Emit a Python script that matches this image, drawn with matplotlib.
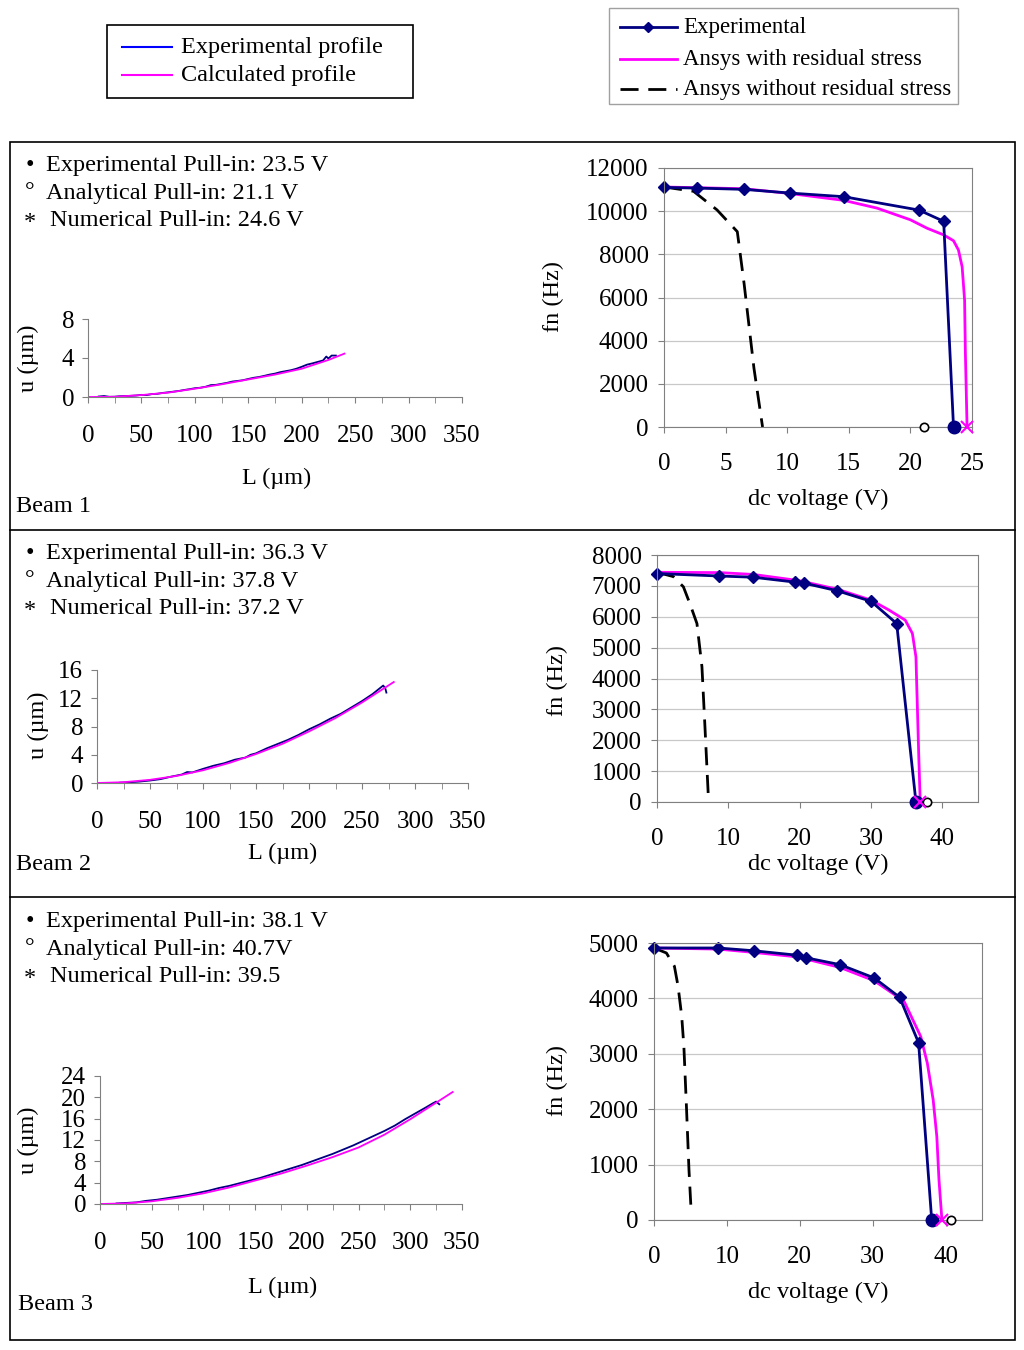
import matplotlib
matplotlib.use('Agg')
import matplotlib.pyplot as plt
from matplotlib.patches import Rectangle
from matplotlib.ticker import MultipleLocator

plt.rcParams['font.family'] = ['Liberation Serif', 'DejaVu Serif']

W, H = 1024, 1350

# ---- beam profiles (L um, u um) ----
b1_L_exp = [10, 15, 20, 25, 30, 35, 40, 45, 50, 55, 60, 65, 70, 75, 80, 85, 90, 95, 100,
            105, 110, 115, 120, 125, 130, 135, 140, 145, 150, 155, 160, 165, 170, 175, 180,
            185, 190, 195, 200, 205, 210, 215, 220, 223, 225, 228, 232]
b1_u_exp = [0.05, 0.1, 0.02, 0.03, 0.08, 0.1, 0.12, 0.15, 0.22, 0.2, 0.3, 0.33, 0.42, 0.48,
            0.55, 0.62, 0.72, 0.8, 0.9, 0.95, 1.05, 1.22, 1.25, 1.35, 1.45, 1.58, 1.65, 1.72,
            1.85, 1.97, 2.05, 2.17, 2.3, 2.4, 2.55, 2.65, 2.75, 2.9, 3.1, 3.32, 3.45, 3.6,
            3.75, 4.15, 3.95, 4.25, 4.25]
b1_L_calc = [0, 25, 50, 75, 100, 125, 150, 175, 200, 225, 240]
b1_u_calc = [0, 0.02, 0.2, 0.45, 0.85, 1.3, 1.8, 2.3, 2.9, 3.8, 4.45]

b2_L_exp = [22, 30, 40, 50, 60, 70, 80, 85, 90, 100, 110, 120, 130, 140, 145, 150, 160, 170,
            180, 190, 200, 210, 220, 230, 240, 250, 260, 265, 270, 272, 273]
b2_u_exp = [0.05, 0.1, 0.2, 0.35, 0.55, 0.9, 1.2, 1.55, 1.5, 2.0, 2.45, 2.8, 3.3, 3.6, 4.0,
            4.2, 4.9, 5.5, 6.1, 6.8, 7.6, 8.3, 9.1, 9.8, 10.7, 11.6, 12.6, 13.2, 13.8, 13.4, 12.8]
b2_L_calc = [0, 25, 50, 75, 100, 125, 150, 175, 200, 225, 250, 280]
b2_u_calc = [0, 0.11, 0.45, 1.0, 1.8, 2.85, 4.1, 5.55, 7.3, 9.2, 11.4, 14.3]

b3_L_exp = [16, 25, 35, 45, 55, 65, 75, 85, 95, 105, 115, 125, 135, 145, 155, 165, 175, 185,
            195, 205, 215, 225, 235, 245, 255, 265, 275, 285, 295, 305, 315, 322, 325, 328]
b3_u_exp = [0.1, 0.2, 0.3, 0.6, 0.8, 1.1, 1.4, 1.7, 2.1, 2.5, 3.0, 3.4, 3.9, 4.4, 4.9, 5.5,
            6.1, 6.7, 7.3, 8.0, 8.7, 9.4, 10.2, 11.0, 11.9, 12.8, 13.7, 14.7, 15.9, 17.0,
            18.1, 18.9, 19.2, 18.7]
b3_L_calc = [0, 25, 50, 75, 100, 125, 150, 175, 200, 225, 250, 275, 300, 325, 341]
b3_u_calc = [0, 0.12, 0.5, 1.15, 2.0, 3.1, 4.4, 5.7, 7.2, 8.8, 10.6, 13.0, 15.9, 19.0, 21.0]

# ---- frequency vs dc voltage (V, Hz) ----
b1_v_exp = [0, 2.7, 6.5, 10.2, 14.6, 20.7, 22.7, 23.5]
b1_f_exp = [11100, 11070, 11010, 10840, 10670, 10050, 9530, 0]
b1_v_res = [0, 6.5, 10.2, 14.6, 17.3, 20.0, 21.35, 22.7, 23.5, 23.9, 24.2, 24.4, 24.46, 24.6]
b1_f_res = [11120, 11040, 10820, 10500, 10140, 9600, 9210, 8900, 8630, 8200, 7420, 5870, 3510, 0]
b1_v_nores = [0, 2.4, 4.3, 5.95, 6.5, 7.3, 8.0]
b1_f_nores = [11120, 10920, 10060, 9050, 6650, 2730, 0]
b1_pullin = [23.5, 21.1, 24.6]   # experimental, analytical, numerical

b2_v_exp = [0, 8.7, 13.5, 19.4, 20.6, 25.3, 30.0, 33.6, 36.3]
b2_f_exp = [7400, 7320, 7280, 7120, 7090, 6840, 6500, 5780, 0]
b2_v_res = [0, 8.8, 13.5, 19.9, 25.3, 30.0, 32.5, 34.8, 35.8, 36.3, 36.5, 36.7, 36.9]
b2_f_res = [7440, 7430, 7370, 7170, 6890, 6540, 6220, 5890, 5460, 4700, 3080, 1460, 0]
b2_v_nores = [0, 2.3, 3.7, 4.6, 5.6, 6.3, 6.7, 7.2]
b2_f_nores = [7440, 7300, 6970, 6430, 5780, 4380, 2540, 160]
b2_pullin = [36.3, 37.8, 36.9]

b3_v_exp = [0, 8.8, 13.7, 19.6, 20.8, 25.5, 30.2, 33.7, 36.3, 38.1]
b3_f_exp = [4910, 4910, 4860, 4780, 4735, 4610, 4370, 4020, 3200, 0]
b3_v_res = [0, 8.8, 13.7, 19.6, 25.5, 30.2, 34.3, 36.6, 37.5, 38.3, 38.8, 39.1, 39.5]
b3_f_res = [4910, 4890, 4830, 4750, 4560, 4320, 3950, 3310, 2830, 2170, 1510, 720, 0]
b3_v_nores = [0, 1.7, 2.8, 3.3, 3.8, 4.1, 4.45, 4.8, 5.1]
b3_f_nores = [4910, 4820, 4580, 4220, 3680, 3130, 2050, 900, 150]
b3_pullin = [38.1, 40.7, 39.5]

info_lines = [
    ['Experimental Pull-in: 23.5 V', 'Analytical Pull-in: 21.1 V', 'Numerical Pull-in: 24.6 V'],
    ['Experimental Pull-in: 36.3 V', 'Analytical Pull-in: 37.8 V', 'Numerical Pull-in: 37.2 V'],
    ['Experimental Pull-in: 38.1 V', 'Analytical Pull-in: 40.7V', 'Numerical Pull-in: 39.5'],
]

NAVY = '#000080'
MAG = '#ff00ff'
GRAY = '#808080'
FS = 17.5    # notes
TFS = 18     # tick labels
LFS = 17.5   # axis labels

fig = plt.figure(figsize=(W / 100, H / 100), dpi=100)

# overlay in pixel coordinates for frames, legends and notes
ov = fig.add_axes([0, 0, 1, 1])
ov.set_xlim(0, W)
ov.set_ylim(H, 0)
ov.axis('off')


def px_axes(x0, y0, x1, y1):
    return fig.add_axes([x0 / W, 1 - y1 / H, (x1 - x0) / W, (y1 - y0) / H])


def place_labels(ax, box, xl, yl, xlab, ylab):
    x0, y0, x1, y1 = box
    ax.set_xlabel(xlab, fontsize=LFS, va='center', ha='center')
    ax.xaxis.set_label_coords((xl[0] - x0) / (x1 - x0), (y1 - xl[1]) / (y1 - y0))
    ax.set_ylabel(ylab, fontsize=LFS, va='center', ha='center')
    ax.yaxis.set_label_coords((yl[0] - x0) / (x1 - x0), (y1 - yl[1]) / (y1 - y0))


def profile_plot(box, L_exp, u_exp, L_calc, u_calc, ymax, ystep, xl, yl):
    ax = px_axes(*box)
    ax.plot(L_exp, u_exp, color=NAVY, lw=1.3)
    ax.plot(L_calc, u_calc, color=MAG, lw=1.3)
    ax.set_xlim(0, 350)
    ax.set_ylim(0, ymax)
    ax.xaxis.set_major_locator(MultipleLocator(50))
    ax.xaxis.set_minor_locator(MultipleLocator(25))
    ax.yaxis.set_major_locator(MultipleLocator(ystep))
    for s in ['top', 'right']:
        ax.spines[s].set_visible(False)
    for s in ['left', 'bottom']:
        ax.spines[s].set_color(GRAY)
    ax.tick_params(axis='x', which='both', colors=GRAY, labelcolor='black',
                   labelsize=TFS, length=4, pad=16)
    ax.tick_params(axis='y', colors=GRAY, labelcolor='black', labelsize=TFS,
                   length=4, pad=6)
    ax.patch.set_alpha(0)
    place_labels(ax, box, xl, yl, 'L (µm)', 'u (µm)')
    return ax


def freq_plot(box, v_exp, f_exp, v_res, f_res, v_nores, f_nores, pullin,
              xmax, xstep, ymax, ystep, xl, yl):
    ax = px_axes(*box)
    ax.plot(v_nores, f_nores, color='black', lw=2, dashes=(6.5, 3.5), clip_on=False)
    ax.plot(v_res, f_res, color=MAG, lw=2, clip_on=False)
    ax.plot(v_exp, f_exp, color=NAVY, lw=2, marker='D', ms=6,
            markevery=list(range(len(v_exp) - 1)), clip_on=False)
    ax.plot([pullin[0]], [0], 'o', color=NAVY, ms=9, clip_on=False, zorder=5)
    ax.plot([pullin[1]], [0], 'o', mfc='white', mec='black', ms=6, mew=1.2,
            clip_on=False, zorder=5)
    ax.plot([pullin[2]], [0], 'x', color=MAG, ms=8, mew=1.5, clip_on=False, zorder=5)
    ax.set_xlim(0, xmax)
    ax.set_ylim(0, ymax)
    ax.xaxis.set_major_locator(MultipleLocator(xstep))
    ax.yaxis.set_major_locator(MultipleLocator(ystep))
    ax.grid(axis='y', color='#c8c8c8', lw=0.9)
    ax.set_axisbelow(True)
    for s in ax.spines.values():
        s.set_color(GRAY)
    ax.tick_params(axis='x', colors=GRAY, labelcolor='black', labelsize=TFS,
                   length=4, pad=15)
    ax.tick_params(axis='y', colors=GRAY, labelcolor='black', labelsize=TFS,
                   length=4, pad=7)
    place_labels(ax, box, xl, yl, 'dc voltage (V)', 'fn (Hz)')
    return ax


# beam 1
profile_plot((88, 319, 462, 397), b1_L_exp, b1_u_exp, b1_L_calc, b1_u_calc, 8, 4,
             (277, 478), (28, 358))
freq_plot((664, 168, 972, 427), b1_v_exp, b1_f_exp, b1_v_res, b1_f_res,
          b1_v_nores, b1_f_nores, b1_pullin, 25, 5, 12000, 2000, (818, 499), (553, 297))
# beam 2
profile_plot((97, 670, 468, 783), b2_L_exp, b2_u_exp, b2_L_calc, b2_u_calc, 16, 4,
             (283, 853), (38, 725))
freq_plot((657, 555, 978, 802), b2_v_exp, b2_f_exp, b2_v_res, b2_f_res,
          b2_v_nores, b2_f_nores, b2_pullin, 45, 10, 8000, 1000, (818, 864), (557, 680))
# beam 3
profile_plot((100, 1076, 462, 1204), b3_L_exp, b3_u_exp, b3_L_calc, b3_u_calc, 24, 4,
             (283, 1287), (28, 1140))
freq_plot((654, 943, 982, 1220), b3_v_exp, b3_f_exp, b3_v_res, b3_f_res,
          b3_v_nores, b3_f_nores, b3_pullin, 45, 10, 5000, 1000, (818, 1292), (557, 1080))

# panel frames
ov.add_patch(Rectangle((10, 142), 1005, 1198, fill=False, ec='black', lw=1.2))
ov.plot([10, 1015], [530, 530], color='black', lw=1.2)
ov.plot([10, 1015], [897, 897], color='black', lw=1.2)

# pull-in notes and beam names
for top, lines in zip([165, 553, 921], info_lines):
    for i, (sym, txt) in enumerate(zip(['•', '°', '*'], lines)):
        y = top + 28 * i
        ov.text(30, y + (2 if sym == '*' else 0), sym, fontsize=FS, ha='center', va='center')
        ov.text(46 if i < 2 else 50, y, txt, fontsize=FS, ha='left', va='center')
for (x, y), name in zip([(16, 507), (16, 864), (18, 1305)], ['Beam 1', 'Beam 2', 'Beam 3']):
    ov.text(x, y, name, fontsize=FS, ha='left', va='center')

# legend for profiles
ov.add_patch(Rectangle((107, 25), 306, 73, fill=False, ec='black', lw=1.2))
ov.plot([122, 172], [47, 47], color='blue', lw=1.5)
ov.plot([122, 172], [75, 75], color=MAG, lw=1.5)
ov.text(181, 48, 'Experimental profile', fontsize=17.5, va='center')
ov.text(181, 76, 'Calculated profile', fontsize=17.5, va='center')

# legend for frequency curves
ov.add_patch(Rectangle((609, 8), 349, 96, fill=False, ec='#a0a0a0', lw=1))
ov.plot([620, 677], [27, 27], color=NAVY, lw=2)
ov.plot([648], [27], 'D', color=NAVY, ms=5)
ov.plot([620, 677], [59, 59], color=MAG, lw=2)
ov.plot([620, 677], [89, 89], color='black', lw=2, dashes=(6.5, 3.5))
ov.text(683, 28, 'Experimental', fontsize=16.5, va='center')
ov.text(683, 60, 'Ansys with residual stress', fontsize=16.5, va='center')
ov.text(683, 90, 'Ansys without residual stress', fontsize=16.5, va='center')

fig.savefig('out.png', dpi=100)
